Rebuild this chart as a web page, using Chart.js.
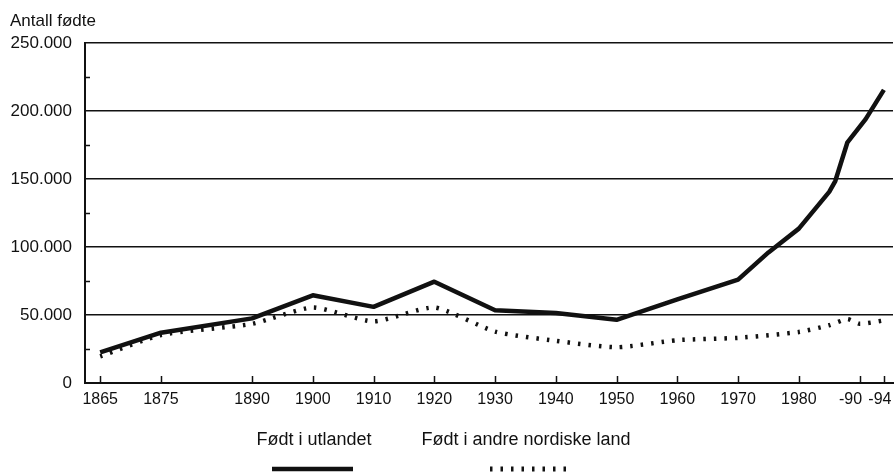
<!DOCTYPE html>
<html>
<head>
<meta charset="utf-8">
<script src="https://cdn.jsdelivr.net/npm/chart.js@4/dist/chart.umd.min.js"></script>
<style>
  html, body { margin: 0; padding: 0; background: #fff; }
  #wrap { width: 895px; height: 474px; position: relative; }
</style>
</head>
<body>
<div id="wrap"><canvas id="chartCanvas" width="895" height="474"></canvas></div>
<script>
// data
var foreignYears = [1865, 1875, 1890, 1900, 1910, 1920, 1930, 1940, 1950, 1960, 1970, 1975, 1980, 1985, 1986, 1988, 1991, 1994];
var foreignBorn  = [22500, 37000, 47500, 64500, 56000, 74500, 53500, 51500, 46500, 61500, 76000, 96000, 113500, 140500, 148500, 177000, 194000, 215500];
var nordicYears  = [1865, 1875, 1890, 1900, 1910, 1920, 1930, 1940, 1950, 1960, 1970, 1980, 1985, 1988, 1990, 1994];
var nordicBorn   = [19500, 35300, 43500, 55500, 45300, 55500, 37800, 31000, 26300, 31500, 33200, 37500, 42500, 47000, 43500, 46000];
var tickYears  = [1865, 1875, 1890, 1900, 1910, 1920, 1930, 1940, 1950, 1960, 1970, 1980, 1990, 1994];
var tickLabels = ['1865', '1875', '1890', '1900', '1910', '1920', '1930', '1940', '1950', '1960', '1970', '1980', '-90', '-94'];
var seriesNames = ['Født i utlandet', 'Født i andre nordiske land'];
var yAxisTitle = 'Antall fødte';

(function() {
  'use strict';

  var FONT = '"Liberation Sans", Arial, sans-serif';
  var INK = '#111';
  var DOTS = [2.5, 8];

  function pairs(xs, ys) {
    return xs.map(function(x, i) { return { x: x, y: ys[i] }; });
  }

  function fmt(v) {
    if (v === 0) return '0';
    return (v / 1000) + '.000';
  }

  // short tick marks inside the plot + year labels
  var innerTicks = {
    id: 'innerTicks',
    beforeDatasetsDraw: function(chart) {
      var ctx = chart.ctx;
      var xs = chart.scales.x, ys = chart.scales.y;
      var area = chart.chartArea;
      ctx.save();
      ctx.strokeStyle = INK;
      ctx.lineWidth = 1.5;
      ctx.beginPath();
      for (var v = 25000; v < 250000; v += 50000) {
        var py = Math.round(ys.getPixelForValue(v)) + 0.5;
        ctx.moveTo(area.left, py);
        ctx.lineTo(area.left + 5, py);
      }
      tickYears.forEach(function(y) {
        var px = Math.round(xs.getPixelForValue(y)) + 0.5;
        ctx.moveTo(px, area.bottom);
        ctx.lineTo(px, area.bottom - 7);
      });
      ctx.stroke();

      // last two labels are nudged apart like in the print
      ctx.fillStyle = INK;
      ctx.font = '16px ' + FONT;
      ctx.textAlign = 'center';
      ctx.textBaseline = 'middle';
      tickYears.forEach(function(y, i) {
        var shift = 0;
        if (i === tickYears.length - 2) shift = -9;
        if (i === tickYears.length - 1) shift = -4;
        ctx.fillText(tickLabels[i], xs.getPixelForValue(y) + shift, area.bottom + 17);
      });
      ctx.restore();
    }
  };

  // axis title at top and legend at the bottom
  var labels = {
    id: 'labels',
    afterDraw: function(chart) {
      var ctx = chart.ctx;
      ctx.save();
      ctx.fillStyle = INK;
      ctx.font = '17px ' + FONT;
      ctx.textBaseline = 'middle';
      ctx.textAlign = 'left';
      ctx.fillText(yAxisTitle, 10, 21);

      ctx.textAlign = 'center';
      ctx.font = '18px ' + FONT;
      ctx.fillText(seriesNames[0], 314, 440);
      ctx.fillText(seriesNames[1], 526, 440);

      ctx.strokeStyle = INK;
      ctx.lineWidth = 4.5;
      ctx.beginPath();
      ctx.moveTo(272, 469);
      ctx.lineTo(353, 469);
      ctx.stroke();

      ctx.lineWidth = 5;
      ctx.setLineDash(DOTS);
      ctx.beginPath();
      ctx.moveTo(490, 469);
      ctx.lineTo(568, 469);
      ctx.stroke();
      ctx.restore();
    }
  };

  function init() {
    var canvas = document.getElementById('chartCanvas');
    new Chart(canvas.getContext('2d'), {
      type: 'line',
      data: {
        datasets: [{
          label: seriesNames[0],
          data: pairs(foreignYears, foreignBorn),
          borderColor: INK,
          borderWidth: 4.5,
          borderJoinStyle: 'round',
          pointRadius: 0,
          tension: 0
        }, {
          label: seriesNames[1],
          data: pairs(nordicYears, nordicBorn),
          borderColor: INK,
          borderWidth: 4.5,
          borderDash: DOTS,
          pointRadius: 0,
          tension: 0.2
        }]
      },
      options: {
        responsive: false,
        animation: false,
        devicePixelRatio: 1,
        layout: { padding: { top: 43, right: 2, bottom: 0, left: 0 } },
        plugins: { legend: { display: false }, tooltip: { enabled: false } },
        scales: {
          x: {
            type: 'linear',
            min: 1862.5,
            max: 1995.5,
            grid: { display: false, drawTicks: false },
            border: { display: true, color: INK, width: 2 },
            afterBuildTicks: function(scale) {
              scale.ticks = tickYears.map(function(v) { return { value: v }; });
            },
            afterFit: function(scale) {
              scale.height = 91;
              scale.paddingLeft = 0;
              scale.paddingRight = 0;
            },
            ticks: { display: false }
          },
          y: {
            min: 0,
            max: 250000,
            grid: {
              drawTicks: false,
              lineWidth: 1.5,
              color: function(c) {
                var v = c.tick ? c.tick.value : 0;
                return (v > 0 && v % 50000 === 0) ? INK : 'rgba(0,0,0,0)';
              }
            },
            border: { display: true, color: INK, width: 2 },
            afterFit: function(scale) {
              scale.width = 85;
              scale.paddingTop = 0;
              scale.paddingBottom = 0;
            },
            ticks: {
              stepSize: 25000,
              padding: 13,
              color: INK,
              font: { family: FONT, size: 17 },
              callback: function(v) { return v % 50000 === 0 ? fmt(v) : ''; }
            }
          }
        }
      },
      plugins: [innerTicks, labels]
    });
  }

  document.addEventListener('DOMContentLoaded', init);
})();
</script>
</body>
</html>
